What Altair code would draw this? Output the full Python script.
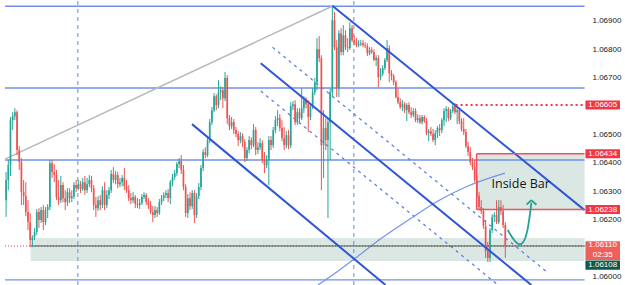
import altair as alt
import pandas as pd

# ---------------- data (EURUSD-like intraday candles) ----------------
open0 = 1.06271
close = [
    1.06342, 1.06394, 1.06552, 1.06566, 1.06580, 1.06447, 1.06405, 1.06299, 1.06285, 1.06229,
    1.06194, 1.06131, 1.06141, 1.06159, 1.06229, 1.06201, 1.06236, 1.06194, 1.06236, 1.06247,
    1.06401, 1.06370, 1.06359, 1.06282, 1.06271, 1.06324, 1.06278, 1.06264, 1.06299, 1.06278,
    1.06285, 1.06324, 1.06313, 1.06327, 1.06310, 1.06334, 1.06306, 1.06327, 1.06342, 1.06313,
    1.06254, 1.06243, 1.06271, 1.06254, 1.06306, 1.06254, 1.06289, 1.06306, 1.06363, 1.06342,
    1.06359, 1.06327, 1.06334, 1.06349, 1.06320, 1.06306, 1.06278, 1.06271, 1.06282, 1.06257,
    1.06254, 1.06261, 1.06282, 1.06289, 1.06264, 1.06254, 1.06229, 1.06219, 1.06236, 1.06226,
    1.06264, 1.06278, 1.06289, 1.06296, 1.06278, 1.06334, 1.06352, 1.06366, 1.06398, 1.06408,
    1.06377, 1.06317, 1.06226, 1.06278, 1.06250, 1.06296, 1.06219, 1.06285, 1.06317, 1.06384,
    1.06440, 1.06429, 1.06482, 1.06545, 1.06587, 1.06636, 1.06605, 1.06650, 1.06657, 1.06629,
    1.06700, 1.06559, 1.06531, 1.06545, 1.06517, 1.06503, 1.06482, 1.06496, 1.06475, 1.06419,
    1.06447, 1.06482, 1.06464, 1.06517, 1.06447, 1.06457, 1.06471, 1.06412, 1.06394, 1.06412,
    1.06482, 1.06464, 1.06517, 1.06552, 1.06559, 1.06524, 1.06489, 1.06464, 1.06499, 1.06464,
    1.06601, 1.06608, 1.06545, 1.06580, 1.06559, 1.06594, 1.06622, 1.06608, 1.06563, 1.06601,
    1.06650, 1.06685, 1.06801, 1.06770, 1.06464, 1.06524, 1.06482, 1.06545, 1.06650, 1.06903,
    1.06808, 1.06664, 1.06857, 1.06791, 1.06850, 1.06808, 1.06805, 1.06875, 1.06833, 1.06826,
    1.06815, 1.06819, 1.06822, 1.06815, 1.06812, 1.06787, 1.06798, 1.06791, 1.06763, 1.06770,
    1.06703, 1.06714, 1.06735, 1.06763, 1.06805, 1.06717, 1.06707, 1.06685, 1.06633, 1.06615,
    1.06598, 1.06608, 1.06587, 1.06605, 1.06580, 1.06570, 1.06584, 1.06552, 1.06559, 1.06545,
    1.06563, 1.06549, 1.06506, 1.06513, 1.06503, 1.06482, 1.06506, 1.06524, 1.06517, 1.06552,
    1.06584, 1.06591, 1.06559, 1.06584, 1.06601, 1.06580, 1.06587, 1.06549, 1.06521, 1.06510,
    1.06461, 1.06440, 1.06405, 1.06387, 1.06342, 1.06285, 1.06247, 1.06233, 1.06180, 1.06092,
    1.06068, 1.06166, 1.06212, 1.06219, 1.06194, 1.06247, 1.06233, 1.06184, 1.06110,
]
high = [
    1.06370, 1.06412, 1.06563, 1.06580, 1.06594, 1.06587, 1.06461, 1.06419, 1.06342, 1.06334,
    1.06271, 1.06226, 1.06148, 1.06173, 1.06240, 1.06243, 1.06247, 1.06254, 1.06247, 1.06257,
    1.06412, 1.06412, 1.06398, 1.06377, 1.06342, 1.06356, 1.06334, 1.06306, 1.06313, 1.06313,
    1.06306, 1.06334, 1.06342, 1.06342, 1.06338, 1.06349, 1.06356, 1.06349, 1.06359, 1.06356,
    1.06324, 1.06282, 1.06285, 1.06289, 1.06320, 1.06334, 1.06306, 1.06317, 1.06377, 1.06387,
    1.06373, 1.06370, 1.06349, 1.06359, 1.06384, 1.06342, 1.06324, 1.06296, 1.06299, 1.06289,
    1.06278, 1.06275, 1.06292, 1.06299, 1.06296, 1.06278, 1.06268, 1.06250, 1.06250, 1.06247,
    1.06275, 1.06289, 1.06299, 1.06306, 1.06310, 1.06342, 1.06363, 1.06377, 1.06405, 1.06419,
    1.06429, 1.06394, 1.06327, 1.06292, 1.06299, 1.06306, 1.06306, 1.06296, 1.06331, 1.06394,
    1.06450, 1.06457, 1.06492, 1.06556, 1.06598, 1.06647, 1.06643, 1.06692, 1.06671, 1.06668,
    1.06721, 1.06710, 1.06570, 1.06563, 1.06556, 1.06528, 1.06513, 1.06510, 1.06506, 1.06485,
    1.06457, 1.06496, 1.06492, 1.06538, 1.06528, 1.06475, 1.06489, 1.06482, 1.06440, 1.06429,
    1.06496, 1.06496, 1.06528, 1.06566, 1.06587, 1.06573, 1.06552, 1.06528, 1.06513, 1.06517,
    1.06615, 1.06619, 1.06622, 1.06594, 1.06594, 1.06664, 1.06636, 1.06633, 1.06622, 1.06612,
    1.06664, 1.06700, 1.06840, 1.06847, 1.06780, 1.06587, 1.06559, 1.06559, 1.06664, 1.06956,
    1.06931, 1.06833, 1.06868, 1.06875, 1.06886, 1.06868, 1.06840, 1.06896, 1.06886, 1.06850,
    1.06840, 1.06833, 1.06833, 1.06833, 1.06826, 1.06822, 1.06808, 1.06808, 1.06801, 1.06780,
    1.06780, 1.06735, 1.06745, 1.06770, 1.06833, 1.06815, 1.06728, 1.06714, 1.06692, 1.06664,
    1.06629, 1.06622, 1.06615, 1.06612, 1.06615, 1.06598, 1.06594, 1.06594, 1.06573, 1.06570,
    1.06570, 1.06570, 1.06559, 1.06521, 1.06528, 1.06521, 1.06517, 1.06531, 1.06538, 1.06559,
    1.06594, 1.06601, 1.06598, 1.06591, 1.06612, 1.06612, 1.06598, 1.06594, 1.06559, 1.06559,
    1.06521, 1.06475, 1.06457, 1.06419, 1.06412, 1.06356, 1.06299, 1.06271, 1.06243, 1.06201,
    1.06124, 1.06173, 1.06222, 1.06229, 1.06271, 1.06271, 1.06271, 1.06254, 1.06194,
]
low = [
    1.06212, 1.06306, 1.06356, 1.06517, 1.06552, 1.06429, 1.06377, 1.06254, 1.06254, 1.06215,
    1.06166, 1.06106, 1.06106, 1.06131, 1.06148, 1.06173, 1.06191, 1.06166, 1.06184, 1.06208,
    1.06236, 1.06349, 1.06334, 1.06271, 1.06254, 1.06261, 1.06264, 1.06236, 1.06250, 1.06261,
    1.06264, 1.06275, 1.06299, 1.06306, 1.06296, 1.06303, 1.06289, 1.06296, 1.06317, 1.06299,
    1.06236, 1.06212, 1.06233, 1.06236, 1.06243, 1.06236, 1.06243, 1.06275, 1.06296, 1.06331,
    1.06327, 1.06313, 1.06317, 1.06320, 1.06306, 1.06296, 1.06268, 1.06257, 1.06261, 1.06243,
    1.06243, 1.06240, 1.06254, 1.06275, 1.06254, 1.06240, 1.06222, 1.06194, 1.06208, 1.06212,
    1.06219, 1.06254, 1.06268, 1.06278, 1.06264, 1.06257, 1.06320, 1.06342, 1.06356, 1.06384,
    1.06363, 1.06306, 1.06212, 1.06208, 1.06236, 1.06240, 1.06191, 1.06208, 1.06275, 1.06306,
    1.06373, 1.06419, 1.06422, 1.06471, 1.06535, 1.06580, 1.06587, 1.06594, 1.06622, 1.06594,
    1.06619, 1.06538, 1.06517, 1.06521, 1.06503, 1.06492, 1.06461, 1.06471, 1.06457, 1.06405,
    1.06408, 1.06436, 1.06450, 1.06457, 1.06429, 1.06433, 1.06447, 1.06401, 1.06366, 1.06384,
    1.06324, 1.06447, 1.06454, 1.06506, 1.06531, 1.06513, 1.06478, 1.06447, 1.06454, 1.06450,
    1.06454, 1.06587, 1.06535, 1.06535, 1.06538, 1.06552, 1.06577, 1.06594, 1.06510, 1.06552,
    1.06591, 1.06640, 1.06657, 1.06756, 1.06306, 1.06349, 1.06447, 1.06208, 1.06412, 1.06633,
    1.06798, 1.06633, 1.06633, 1.06780, 1.06780, 1.06798, 1.06791, 1.06798, 1.06826, 1.06815,
    1.06808, 1.06808, 1.06812, 1.06808, 1.06805, 1.06777, 1.06780, 1.06784, 1.06759, 1.06742,
    1.06668, 1.06692, 1.06707, 1.06728, 1.06756, 1.06685, 1.06692, 1.06675, 1.06629, 1.06608,
    1.06591, 1.06584, 1.06577, 1.06549, 1.06573, 1.06559, 1.06563, 1.06545, 1.06542, 1.06538,
    1.06538, 1.06542, 1.06499, 1.06478, 1.06496, 1.06475, 1.06464, 1.06489, 1.06496, 1.06506,
    1.06531, 1.06545, 1.06549, 1.06552, 1.06577, 1.06573, 1.06538, 1.06538, 1.06513, 1.06499,
    1.06454, 1.06426, 1.06394, 1.06377, 1.06334, 1.06278, 1.06236, 1.06222, 1.06170, 1.06068,
    1.06054, 1.06054, 1.06155, 1.06194, 1.06187, 1.06187, 1.06219, 1.06173, 1.06068,
]

# horizontal levels (price)
hline_prices = [1.06952, 1.06665, 1.06412, 1.05991]
# vertical dashed session lines (bar index)
vline_idx = [32.76, 158.8]
# trend / channel lines: (bar index 1, price 1, bar index 2, price 2)
grey_line = [(-0.5, 1.06415, 149.15, 1.06953)]
channel_lines = [
    (149.15, 1.06953, 264.2, 1.06236),
    (116.3, 1.06752, 239.9, 1.05973),
    (84.9, 1.06538, 173.3, 1.05973),
]
dashed_lines = [
    (121.7, 1.06808, 247.6, 1.06015),
    (116.3, 1.06654, 224.2, 1.05976),
]
curve_idx = [142.4, 152.3, 159.0, 170.3, 185.1, 197.2, 210.7, 227.8]
curve_price = [1.05973, 1.06026, 1.06064, 1.06131, 1.06208, 1.06268, 1.06320, 1.06366]
arrow_idx = [229.1, 232.3, 235.4, 238.1, 239.9]
arrow_price = [1.06166, 1.06124, 1.06108, 1.06148, 1.06262]
arrow_head = [(237.7, 1.06255, 239.9, 1.06271), (242.2, 1.06255, 239.9, 1.06271)]

support_zone = (11.2, 264.2, 1.06057, 1.06138)
inside_bar = (214.9, 264.2, 1.06238, 1.06434)
inside_text = (235.0, 1.06327, "Inside Bar")
res_dotted = (205.3, 264.2, 1.06605)
last_price = 1.06110
plot_right = 264.2          # right end of the price pane (bar index units)
axis_label_x = 267.8        # price-scale column
tag_x = (264.6, 280.38)
tag_text_x = 272.5

axis_values = [1.06000, 1.06200, 1.06300, 1.06400, 1.06500, 1.06700, 1.06800, 1.06900]
tag_text = ["1.06605", "1.06434", "1.06238", "1.06110", "02:35", "1.06108"]
tag_text_price = [1.06605, 1.06434, 1.06238, 1.06112, 1.06080, 1.06043]
tag_box_top = [1.06621, 1.06450, 1.06254, 1.06127, 1.06059]
tag_box_bot = [1.06589, 1.06418, 1.06222, 1.06061, 1.06027]
tag_box_col = ["#f23645", "#f23645", "#f23645", "#f0605a", "#10584a"]

# ---------------- build ----------------
UP, DOWN = "#26a69a", "#ef5350"
n = len(close)
opens = [open0] + close[:-1]
candles = pd.DataFrame({"i": list(range(n)), "o": opens, "h": high, "l": low, "c": close})
candles["up"] = [c >= o for o, c in zip(opens, close)]
up_df = candles[candles["up"]].drop(columns=["up"])
dn_df = candles[~candles["up"]].drop(columns=["up"])

xs = alt.Scale(domain=[-0.5, 280.38], nice=False, zero=False)
ys = alt.Scale(domain=[1.05973, 1.06974], nice=False, zero=False)

def X(f):
    return alt.X(f, type="quantitative", scale=xs, axis=None)

def Y(f):
    return alt.Y(f, type="quantitative", scale=ys, axis=None)

def segs(rows):
    return pd.DataFrame(rows, columns=["x1", "y1", "x2", "y2"])

def seg_layer(df, **mk):
    return alt.Chart(df).mark_rule(**mk).encode(x=X("x1"), x2="x2", y=Y("y1"), y2="y2")

layers = []

# zones
zones = segs([(support_zone[0], support_zone[2], support_zone[1], support_zone[3]),
              (inside_bar[0], inside_bar[2], inside_bar[1], inside_bar[3])])
layers.append(alt.Chart(zones).mark_rect(color="#dbe7e3").encode(
    x=X("x1"), x2="x2", y=Y("y1"), y2="y2"))

# horizontal blue levels
h_df = segs([(-0.5, p, plot_right, p) for p in hline_prices])
layers.append(seg_layer(h_df, color="#6f8fea", strokeWidth=1.3))

# vertical dashed
v_df = segs([(v, 1.05973, v, 1.06974) for v in vline_idx])
layers.append(seg_layer(v_df, color="#7f9ef0", strokeWidth=1.2, strokeDash=[4, 4]))

# grey rising line
layers.append(seg_layer(segs(grey_line), color="#b4b8c0", strokeWidth=1.5))

# dashed channel lines
layers.append(seg_layer(segs(dashed_lines), color="#5f80e4", strokeWidth=1.3, strokeDash=[3, 4]))

# curve
curve_df = pd.DataFrame({"x": curve_idx, "y": curve_price})
layers.append(alt.Chart(curve_df).mark_line(color="#7593ea", strokeWidth=1.2,
                                            interpolate="monotone").encode(
    x=X("x"), y=Y("y")))

# last-price dotted line and dark level line
layers.append(seg_layer(segs([(-0.5, last_price, plot_right, last_price)]),
                        color="#f23645", strokeWidth=1, strokeDash=[1, 2]))
layers.append(seg_layer(segs([(support_zone[0], last_price, plot_right, last_price)]),
                        color="#3f5f55", strokeWidth=1))

# candles
for d, col in ((up_df, UP), (dn_df, DOWN)):
    layers.append(alt.Chart(d).mark_rule(color=col, strokeWidth=1).encode(
        x=X("i"), y=Y("l"), y2="h"))
    layers.append(alt.Chart(d).mark_bar(color=col, size=1.7).encode(
        x=X("i"), y=Y("o"), y2="c"))

# solid channel lines
layers.append(seg_layer(segs(channel_lines), color="#2f56d6", strokeWidth=2))

# inside bar borders
ib_lines = segs([
    (inside_bar[0], inside_bar[3], inside_bar[1], inside_bar[3]),
    (inside_bar[0], inside_bar[2], inside_bar[1], inside_bar[2]),
    (inside_bar[0], inside_bar[2], inside_bar[0], inside_bar[3]),
])
layers.append(seg_layer(ib_lines, color="#f05060", strokeWidth=1.5))

# resistance dotted
layers.append(seg_layer(segs([(res_dotted[0], res_dotted[2], res_dotted[1], res_dotted[2])]),
                        color="#f23645", strokeWidth=2, strokeDash=[2, 3]))

# text
t_df = pd.DataFrame([{"x": inside_text[0], "y": inside_text[1], "t": inside_text[2]}])
layers.append(alt.Chart(t_df).mark_text(fontSize=12.5, color="#131722", font="Open Sans").encode(
    x=X("x"), y=Y("y"), text="t:N"))

# arrow
arr_df = pd.DataFrame({"x": arrow_idx, "y": arrow_price})
layers.append(alt.Chart(arr_df).mark_line(color="#22a391", strokeWidth=1.8, interpolate="basis").encode(
    x=X("x"), y=Y("y")))
layers.append(seg_layer(segs(arrow_head), color="#22a391", strokeWidth=1.8))

# price scale labels
ax_df = pd.DataFrame({"x": axis_label_x, "y": axis_values,
                      "t": [f"{v:.5f}" for v in axis_values]})
layers.append(alt.Chart(ax_df).mark_text(color="#131722", fontSize=8, font="Liberation Sans",
                                         align="left", baseline="middle").encode(
    x=X("x"), y=Y("y"), text="t:N"))

# price tags
for top, bot, col in zip(tag_box_top, tag_box_bot, tag_box_col):
    tb = segs([(tag_x[0], top, tag_x[1], bot)])
    layers.append(alt.Chart(tb).mark_rect(color=col).encode(
        x=X("x1"), x2="x2", y=Y("y1"), y2="y2"))
tt_df = pd.DataFrame({"x": tag_text_x, "t": tag_text, "y": tag_text_price})
layers.append(alt.Chart(tt_df).mark_text(color="white", fontSize=8, font="Liberation Sans",
                                         align="center", baseline="middle").encode(
    x=X("x"), y=Y("y"), text="t:N"))

chart = alt.layer(*layers).properties(
    width=625, height=285,
    autosize=alt.AutoSizeParams(type="none"),
    padding=0,
    background="white",
).configure_view(stroke=None)

chart.save("out.html", embed_options={"renderer": "svg", "actions": False})
